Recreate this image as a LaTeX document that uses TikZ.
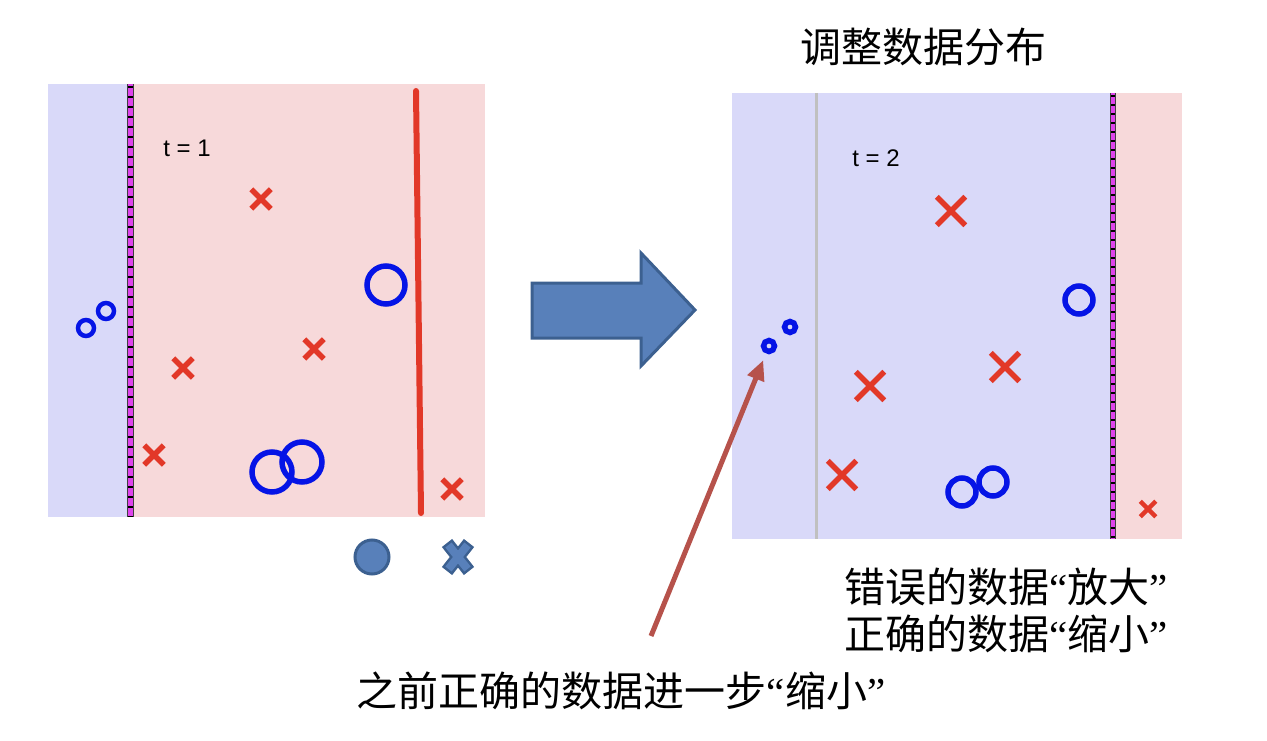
\documentclass[tikz,border=0pt]{standalone}
\usepackage{fontspec}
\setmainfont{Liberation Sans}
\newfontfamily\cjk{Noto Sans CJK SC}
\newfontfamily\latq{Liberation Serif}
\newcommand{\myopenq}{{\latq “}}
\newcommand{\mycloseq}{{\latq ”}}
\usetikzlibrary{shapes.misc,arrows.meta}
\definecolor{bgblue}{RGB}{217,217,249}
\definecolor{bgpink}{RGB}{247,217,218}
\definecolor{xred}{RGB}{226,56,40}
\definecolor{oblue}{RGB}{5,20,230}
\definecolor{magline}{RGB}{222,68,236}
\definecolor{lgfill}{RGB}{88,128,186}
\definecolor{lgedge}{RGB}{60,96,144}
\definecolor{arrbrown}{RGB}{182,82,75}
\definecolor{grayline}{RGB}{192,192,192}
\tikzset{
  xs/.style={cross out,draw=xred,line width=5.5pt,minimum size=14pt,inner sep=0pt},
  xb/.style={cross out,draw=xred,line width=5.5pt,minimum size=23pt,inner sep=0pt},
  ob/.style={circle,draw=oblue,line width=5.5pt,inner sep=0pt,minimum size=#1},
  tlabel/.style={font=\fontsize{24}{28}\selectfont,inner sep=0pt},
  cjklabel/.style={font=\cjk\fontsize{41}{49}\selectfont,inner sep=0pt,align=left},
}
\begin{document}
\begin{tikzpicture}[x=1pt,y=-1pt]
\useasboundingbox (0,0) rectangle (1267,741);
% ---- left panel ----
\fill[bgblue] (48,84) rectangle (130,517);
\fill[bgpink] (130,84) rectangle (485,517);
\draw[line width=6.5pt,black!75] (130.5,84) -- (130.5,517);
\draw[line width=4.5pt,magline] (130.5,84) -- (130.5,517);
\draw[line width=4.5pt,black,dash pattern=on 2pt off 8pt] (130.5,86) -- (130.5,517);
\draw[line width=6pt,xred,line cap=round] (416,91) -- (421,513);
\node[tlabel] (t1) at (187,148) {t = 1};
\node[xs] (lx1) at (261,199) {};
\node[xs] (lx2) at (183,368) {};
\node[xs] (lx3) at (314,349) {};
\node[xs] (lx4) at (154,455) {};
\node[xs] (lx5) at (452,489) {};
\node[ob=38pt] (lo1) at (386,285) {};
\node[ob=40pt] (lo2) at (272,472) {};
\node[ob=40pt] (lo3) at (302,462) {};
\node[ob=16pt,line width=4.5pt] (lo4) at (86,328) {};
\node[ob=16pt,line width=4.5pt] (lo5) at (106,311) {};
% legend
\node[circle,fill=lgfill,draw=lgedge,line width=3pt,minimum size=34pt,inner sep=0pt] (legc) at (372,557) {};
\coordinate (legx) at (458,557);
\draw[lgedge,line width=13pt] ([shift={(-11,-14)}]legx) -- ([shift={(11,14)}]legx)
   ([shift={(11,-14)}]legx) -- ([shift={(-11,14)}]legx);
\draw[lgfill,line width=8pt] ([shift={(-9.5,-12)}]legx) -- ([shift={(9.5,12)}]legx)
   ([shift={(9.5,-12)}]legx) -- ([shift={(-9.5,12)}]legx);
% ---- block arrow ----
\draw[fill=lgfill,draw=lgedge,line width=3pt,line join=miter]
  (532,283) -- (641,283) -- (641,253) -- (695,310) -- (641,366) -- (641,338) -- (532,338) -- cycle;
% ---- title ----
\node[cjklabel] (title) at (923,47) {调整数据分布};
% ---- right panel ----
\fill[bgblue] (732,93) rectangle (1113,539);
\fill[bgpink] (1113,93) rectangle (1182,539);
\draw[line width=3pt,grayline] (816,93) -- (816,539);
\draw[line width=6.5pt,black!75] (1113,93) -- (1113,539);
\draw[line width=4.5pt,magline] (1113,93) -- (1113,539);
\draw[line width=4.5pt,black,dash pattern=on 2pt off 7pt] (1113,95) -- (1113,539);
\node[tlabel] (t2) at (876,158) {t = 2};
\node[xb] (rx1) at (951,211) {};
\node[xb] (rx2) at (870,386) {};
\node[xb] (rx3) at (1005,367) {};
\node[xb] (rx4) at (842,475) {};
\node[xs,minimum size=11pt,line width=4.5pt] (rx5) at (1148,509) {};
\node[ob=28pt] (ro1) at (1079,300) {};
\node[ob=28pt] (ro2) at (962,492) {};
\node[ob=28pt] (ro3) at (993,482) {};
\node[ob=11pt,line width=5.5pt] (ro4) at (769,346) {};
\node[ob=11pt,line width=5.5pt] (ro5) at (790,327) {};
% ---- annotations ----
\node[cjklabel] (note1) at (1006,587) {错误的数据\myopenq 放大\mycloseq};
\node[cjklabel] (note2) at (1006,634) {正确的数据\myopenq 缩小\mycloseq};
\node[cjklabel] (note3) at (621,691) {之前正确的数据进一步\myopenq 缩小\mycloseq};
\coordinate (arrstart) at (651,636);
\draw[arrbrown,line width=5pt,-{Triangle[length=20pt,width=17pt]},shorten >=7pt] (arrstart) -- (ro4);
\end{tikzpicture}
\end{document}
